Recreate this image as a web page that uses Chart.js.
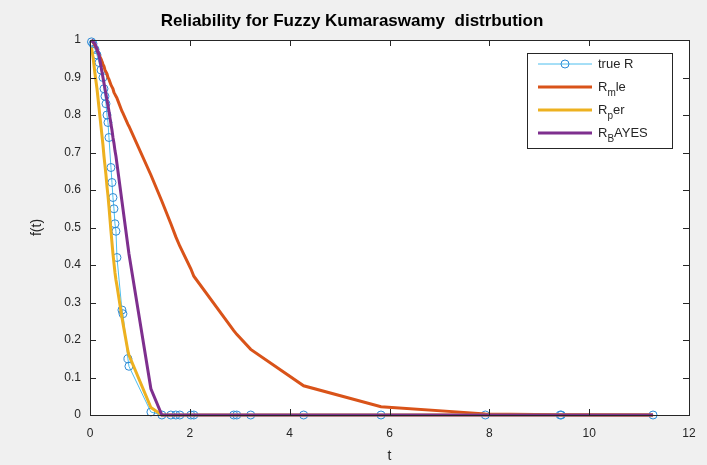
<!DOCTYPE html>
<html lang="en">
<head>
    <meta charset="UTF-8">
    <title>Reliability for Fuzzy Kumaraswamy distrbution</title>
    <script src="https://cdn.jsdelivr.net/npm/chart.js"></script>
    <style>
        html, body { margin: 0; padding: 0; background: #f0f0f0; }
        #wrap { width: 707px; height: 465px; }
    </style>
</head>
<body>
    <div id="wrap"><canvas id="chart" width="707" height="465"></canvas></div>

    <script>
        // shared time grid (t) and the four reliability series
        const tValues = [0.03, 0.06, 0.1, 0.14, 0.18, 0.22, 0.26, 0.28, 0.3, 0.32, 0.34, 0.36, 0.38, 0.42, 0.44, 0.46,
            0.48, 0.5, 0.52, 0.54, 0.64, 0.66, 0.76, 0.78, 1.22, 1.44, 1.62, 1.72, 1.8, 2.02, 2.08, 2.88, 2.94, 3.22,
            4.28, 5.83, 7.92, 9.42, 9.44, 11.28];
        const trueR = [0.995, 0.99, 0.975, 0.96, 0.94, 0.92, 0.9, 0.87, 0.85, 0.83, 0.8, 0.78, 0.74, 0.66, 0.62, 0.58,
            0.55, 0.51, 0.49, 0.42, 0.28, 0.27, 0.15, 0.13, 0.008, 0, 0, 0, 0, 0, 0, 0, 0, 0,
            0, 0, 0, 0, 0, 0];
        const rMle = [1.0, 0.995, 0.985, 0.975, 0.96, 0.95, 0.935, 0.93, 0.92, 0.915, 0.91, 0.9, 0.895, 0.88, 0.875, 0.87,
            0.86, 0.855, 0.85, 0.845, 0.81, 0.805, 0.775, 0.77, 0.64, 0.57, 0.51, 0.475, 0.45, 0.39, 0.37, 0.225, 0.215, 0.175,
            0.078, 0.022, 0.003, 0.001, 0.001, 0];
        const rPer = [0.98, 0.955, 0.91, 0.87, 0.82, 0.77, 0.72, 0.69, 0.665, 0.64, 0.61, 0.585, 0.555, 0.49, 0.46, 0.43,
            0.405, 0.38, 0.36, 0.345, 0.26, 0.245, 0.17, 0.16, 0.02, 0, 0, 0, 0, 0, 0, 0, 0, 0,
            0, 0, 0, 0, 0, 0];
        const rBayes = [1.0, 0.995, 0.99, 0.975, 0.96, 0.93, 0.9, 0.885, 0.87, 0.855, 0.84, 0.825, 0.81, 0.775, 0.76, 0.74,
            0.725, 0.705, 0.69, 0.67, 0.57, 0.55, 0.45, 0.43, 0.07, 0, 0, 0, 0, 0, 0, 0, 0, 0,
            0, 0, 0, 0, 0, 0];

        const xTicks = [0, 2, 4, 6, 8, 10, 12];
        const yTicks = [0, 0.1, 0.2, 0.3, 0.4, 0.5, 0.6, 0.7, 0.8, 0.9, 1];

        const FONT = "'Liberation Sans', Arial, sans-serif";
        const INK = '#262626';

        const toPoints = ys => tValues.map((t, i) => ({ x: t, y: ys[i] }));

        // legend entries: main text, subscript, rest
        const legendItems = [
            { main: 'true R', sub: '', rest: '', color: '#4dbeee', marker: true, width: 1 },
            { main: 'R', sub: 'm', rest: 'le', color: '#d95319', width: 3 },
            { main: 'R', sub: 'p', rest: 'er', color: '#edb120', width: 3 },
            { main: 'R', sub: 'B', rest: 'AYES', color: '#7e2f8e', width: 3 }
        ];

        const matlabFrame = {
            id: 'matlabFrame',
            beforeDraw(chart) {
                const { ctx, chartArea: a } = chart;
                ctx.save();
                ctx.fillStyle = '#f0f0f0';
                ctx.fillRect(0, 0, chart.width, chart.height);
                ctx.fillStyle = '#ffffff';
                ctx.fillRect(a.left, a.top, a.right - a.left, a.bottom - a.top);
                ctx.restore();
            },
            afterDraw(chart) {
                const { ctx, chartArea: a, scales } = chart;
                ctx.save();

                // box + inward ticks
                ctx.strokeStyle = INK;
                ctx.lineWidth = 1;
                ctx.strokeRect(a.left + 0.5, a.top + 0.5, a.right - a.left, a.bottom - a.top);
                ctx.beginPath();
                xTicks.forEach(v => {
                    const px = Math.round(scales.x.getPixelForValue(v)) + 0.5;
                    ctx.moveTo(px, a.bottom); ctx.lineTo(px, a.bottom - 6);
                    ctx.moveTo(px, a.top); ctx.lineTo(px, a.top + 6);
                });
                yTicks.forEach(v => {
                    const py = Math.round(scales.y.getPixelForValue(v)) + 0.5;
                    ctx.moveTo(a.left, py); ctx.lineTo(a.left + 6, py);
                    ctx.moveTo(a.right, py); ctx.lineTo(a.right - 6, py);
                });
                ctx.stroke();

                // title
                ctx.fillStyle = '#000';
                ctx.font = 'bold 17px ' + FONT;
                ctx.textAlign = 'center';
                ctx.textBaseline = 'middle';
                ctx.fillText('Reliability for Fuzzy Kumaraswamy  distrbution', 352, 21);

                // axis labels
                ctx.fillStyle = INK;
                ctx.font = '14px ' + FONT;
                ctx.fillText('t', (a.left + a.right) / 2, 456);
                ctx.save();
                ctx.translate(37, (a.top + a.bottom) / 2);
                ctx.rotate(-Math.PI / 2);
                ctx.fillText('f(t)', 0, 0);
                ctx.restore();

                // legend
                const lx = 527, ly = 53, lw = 145, lh = 95;
                ctx.fillStyle = '#ffffff';
                ctx.fillRect(lx, ly, lw, lh);
                ctx.strokeStyle = INK;
                ctx.strokeRect(lx + 0.5, ly + 0.5, lw, lh);
                legendItems.forEach((it, i) => {
                    const y = 64 + i * 23;
                    ctx.strokeStyle = it.color;
                    ctx.lineWidth = it.width;
                    ctx.beginPath();
                    ctx.moveTo(538, y); ctx.lineTo(592, y);
                    ctx.stroke();
                    if (it.marker) {
                        ctx.strokeStyle = '#2e8bd6';
                        ctx.lineWidth = 1;
                        ctx.beginPath();
                        ctx.arc(565, y, 4, 0, Math.PI * 2);
                        ctx.stroke();
                    }
                    ctx.fillStyle = INK;
                    ctx.textAlign = 'left';
                    ctx.textBaseline = 'middle';
                    ctx.font = '13px ' + FONT;
                    let x = 598;
                    ctx.fillText(it.main, x, y);
                    x += ctx.measureText(it.main).width;
                    if (it.sub) {
                        ctx.font = '10px ' + FONT;
                        ctx.fillText(it.sub, x, y + 6);
                        x += ctx.measureText(it.sub).width;
                        ctx.font = '13px ' + FONT;
                        ctx.fillText(it.rest, x, y);
                    }
                });
                ctx.restore();
            }
        };

        const ctx = document.getElementById('chart').getContext('2d');
        const chart = new Chart(ctx, {
            type: 'line',
            data: {
                datasets: [
                    {
                        label: 'true R',
                        data: toPoints(trueR),
                        borderColor: '#4dbeee',
                        borderWidth: 1,
                        pointStyle: 'circle',
                        pointRadius: 4,
                        pointBorderColor: '#2e8bd6',
                        pointBackgroundColor: 'rgba(0,0,0,0)',
                        pointBorderWidth: 1,
                        tension: 0,
                        clip: 8,
                        order: 4
                    },
                    {
                        label: 'R_mle',
                        data: toPoints(rMle),
                        borderColor: '#d95319',
                        borderWidth: 3,
                        pointRadius: 0,
                        tension: 0,
                        clip: 8,
                        order: 3
                    },
                    {
                        label: 'R_per',
                        data: toPoints(rPer),
                        borderColor: '#edb120',
                        borderWidth: 3,
                        pointRadius: 0,
                        tension: 0,
                        clip: 8,
                        order: 2
                    },
                    {
                        label: 'R_BAYES',
                        data: toPoints(rBayes),
                        borderColor: '#7e2f8e',
                        borderWidth: 3,
                        pointRadius: 0,
                        tension: 0,
                        clip: 8,
                        order: 1
                    }
                ]
            },
            options: {
                responsive: false,
                animation: false,
                events: [],
                layout: { padding: { left: 0, right: 18, top: 40, bottom: 0 } },
                plugins: {
                    legend: { display: false },
                    title: { display: false },
                    tooltip: { enabled: false }
                },
                scales: {
                    x: {
                        type: 'linear',
                        min: 0,
                        max: 12,
                        afterFit: s => { s.height = 50; },
                        afterBuildTicks: s => { s.ticks = xTicks.map(v => ({ value: v })); },
                        grid: { display: false, drawTicks: false },
                        border: { display: false },
                        ticks: {
                            padding: 11,
                            color: INK,
                            font: { family: FONT, size: 12 },
                            maxRotation: 0,
                            callback: v => String(v)
                        }
                    },
                    y: {
                        type: 'linear',
                        min: 0,
                        max: 1,
                        afterFit: s => { s.width = 90; },
                        afterBuildTicks: s => { s.ticks = yTicks.map(v => ({ value: v })); },
                        grid: { display: false, drawTicks: false },
                        border: { display: false },
                        ticks: {
                            padding: 9,
                            color: INK,
                            font: { family: FONT, size: 12 },
                            callback: v => String(+v.toFixed(1))
                        }
                    }
                }
            },
            plugins: [matlabFrame]
        });
    </script>
</body>
</html>
